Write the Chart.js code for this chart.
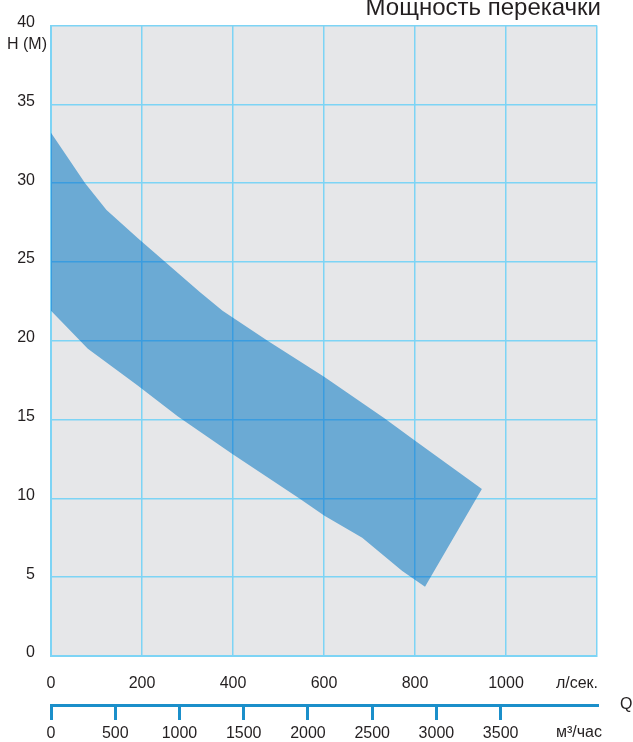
<!DOCTYPE html>
<html>
<head>
<meta charset="utf-8">
<script src="https://cdn.jsdelivr.net/npm/chart.js@4.4.0/dist/chart.umd.min.js"></script>
<style>
  html, body { margin: 0; padding: 0; background: #fff; }
</style>
</head>
<body>
<canvas id="myChart" width="633" height="742"></canvas>
<script>
// upper edge of the working field (Q in l/s, H in m)
const qUpper = [0, 75, 122, 191, 327, 377, 476, 601, 732, 798, 947];
const hUpper = [33.2, 30.0, 28.3, 26.5, 23.1, 21.9, 20.0, 17.7, 15.1, 13.7, 10.6];
// lower edge
const qLower = [0, 81, 189, 279, 397, 546, 601, 684, 772, 822];
const hLower = [21.9, 19.5, 17.2, 15.2, 12.85, 10.0, 8.9, 7.5, 5.4, 4.4];

// axes
const hMax = 40, hStep = 5;
const qMax = 1200;
const qTicks = [0, 200, 400, 600, 800, 1000, 1200]; // 1200 = right border, no label
const m3Max = 4250;
const m3Ticks = [0, 500, 1000, 1500, 2000, 2500, 3000, 3500];

const title = "Мощность перекачки";
const hLabel = "H (M)";
const qUnit = "л/сек.";
const m3Unit = "м³/час";
const qLetter = "Q";

const FONT = "Liberation Sans, Arial, sans-serif";
const TEXT = "#231f20";
const GRID = "#7dd4f5";
const AXIS2 = "#1b8fca";

// closed outline: upper edge left->right, then lower edge right->left
let shape = [];
for (let i = 0; i < qUpper.length; i++) shape.push({ x: qUpper[i], y: hUpper[i] });
for (let i = qLower.length - 1; i >= 0; i--) shape.push({ x: qLower[i], y: hLower[i] });

const paper = {
  id: "paper",
  beforeDraw(chart) {
    const { ctx, chartArea: a } = chart;
    ctx.save();
    ctx.fillStyle = "#e6e7e9";
    ctx.fillRect(a.left, a.top, a.right - a.left, a.bottom - a.top);
    ctx.restore();
  },
  // fill darkens the grid lines beneath it, like in the print
  beforeDatasetsDraw(chart) {
    chart.ctx.save();
    chart.ctx.globalCompositeOperation = "multiply";
  },
  afterDatasetsDraw(chart) {
    chart.ctx.restore();
  },
  afterDraw(chart) {
    const ctx = chart.ctx;
    const a = chart.chartArea;
    const x = chart.scales.x;
    const x2 = chart.scales.x2;
    ctx.save();
    ctx.fillStyle = TEXT;
    ctx.font = "24px " + FONT;
    ctx.textAlign = "right";
    ctx.textBaseline = "alphabetic";
    ctx.fillText(title, a.right + 4, 15);

    ctx.font = "16px " + FONT;
    ctx.textBaseline = "middle";
    ctx.fillText(hLabel, a.left - 4, a.top + 19);
    ctx.fillText(qUnit, a.right + 1, x.top + 28);
    ctx.fillText(m3Unit, a.right + 5, x2.top + 28);
    ctx.textAlign = "left";
    ctx.fillText(qLetter, a.right + 23, x2.top);
    ctx.restore();
  }
};

let mychart = document.getElementById("myChart").getContext("2d");
let areaChart = new Chart(mychart, {
  type: "line",
  data: {
    datasets: [
      {
        data: shape,
        fill: "shape",
        backgroundColor: "#76bce8",
        borderWidth: 0,
        pointRadius: 0,
        tension: 0,
      },
    ],
  },
  options: {
    responsive: false,
    animation: false,
    devicePixelRatio: 1,
    layout: { padding: { left: 0, right: 36, top: 24, bottom: 0 } },
    plugins: { legend: { display: false }, tooltip: { enabled: false } },
    scales: {
      y: {
        type: "linear",
        position: "left",
        min: 0,
        max: hMax,
        ticks: {
          stepSize: hStep,
          color: TEXT,
          font: { family: FONT, size: 16 },
          padding: 16,
          labelOffset: -3,
        },
        grid: { color: GRID, lineWidth: 1.5, drawTicks: false },
        border: { color: GRID, width: 2 },
        afterFit: (s) => { s.width = 51; },
      },
      x: {
        type: "linear",
        position: "bottom",
        weight: 0,
        min: 0,
        max: qMax,
        afterBuildTicks: (s) => { s.ticks = qTicks.map((v) => ({ value: v })); },
        ticks: {
          autoSkip: false,
          maxRotation: 0,
          color: TEXT,
          font: { family: FONT, size: 16 },
          padding: 18,
          callback: (v) => (v === qMax ? "" : String(v)),
        },
        grid: { color: GRID, lineWidth: 1.5, drawTicks: false },
        border: { color: GRID, width: 2 },
        afterFit: (s) => { s.height = 49; },
      },
      x2: {
        type: "linear",
        position: "bottom",
        weight: 1,
        min: 0,
        max: m3Max,
        afterBuildTicks: (s) => { s.ticks = m3Ticks.map((v) => ({ value: v })); },
        ticks: {
          autoSkip: false,
          maxRotation: 0,
          color: TEXT,
          font: { family: FONT, size: 16 },
          padding: 4,
          callback: (v) => String(v),
        },
        grid: { drawOnChartArea: false, drawTicks: true, tickLength: 15, color: AXIS2, lineWidth: 3 },
        border: { color: AXIS2, width: 3 },
        afterFit: (s) => { s.height = 37; },
      },
    },
  },
  plugins: [paper],
});
</script>
</body>
</html>
